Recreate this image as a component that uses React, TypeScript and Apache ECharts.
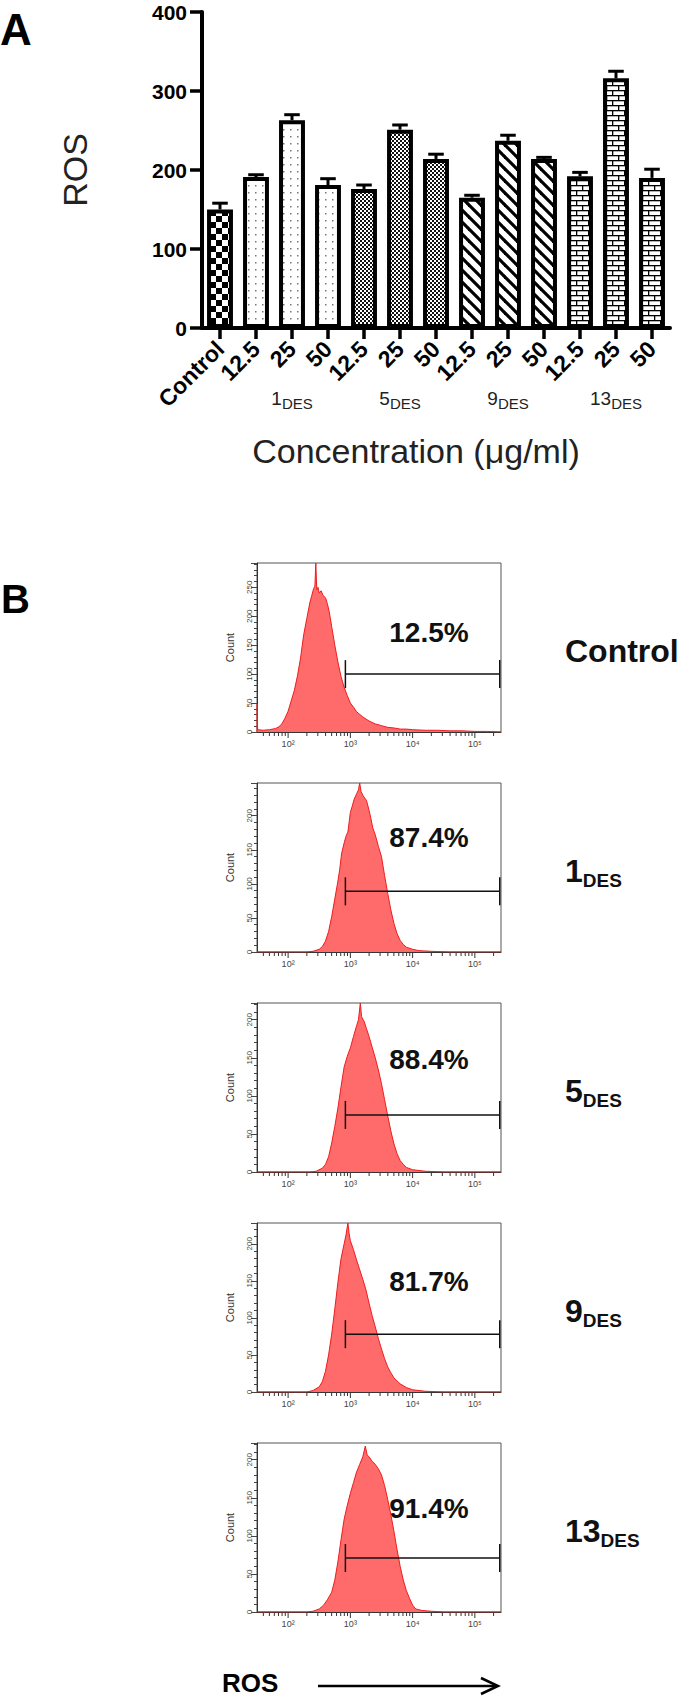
import React, { useEffect, useRef } from 'react';
import * as echarts from 'echarts';

// ---------- Panel A data ----------
const categories = ['Control', '12.5', '25', '50', '12.5', '25', '50', '12.5', '25', '50', '12.5', '25', '50'];
const barGroups = ['control', '1', '1', '1', '5', '5', '5', '9', '9', '9', '13', '13', '13'];
const barValues = [150, 191, 263, 181, 176, 251, 214, 165, 237, 214, 192, 316, 190];
const barErrors = [8, 3, 7, 8, 5, 6, 6, 3, 7, 2, 5, 9, 11];
const groupLabelIndex = [2, 5, 8, 11];
const groupLabelNames = ['1', '5', '9', '13'];
const barYTicks = { min: 0, max: 400, interval: 100 };

// ---------- Panel B data (log10 fluorescence, count) ----------
const histControl: number[][] = [
  [1.5, 0], [1.502, 48], [1.51, 4], [1.6, 3], [1.7, 4], [1.8, 6], [1.85, 9], [1.9, 14], [1.95, 24], [2.0, 36],
  [2.05, 54], [2.1, 72], [2.15, 97], [2.2, 128], [2.25, 168], [2.3, 196], [2.35, 224], [2.38, 236], [2.41, 248],
  [2.43, 252], [2.445, 292], [2.46, 246], [2.48, 250], [2.5, 240], [2.53, 244], [2.56, 236], [2.6, 232], [2.63, 222],
  [2.66, 208], [2.7, 182], [2.75, 150], [2.8, 121], [2.85, 96], [2.9, 77], [2.95, 63], [3.0, 50], [3.05, 43],
  [3.1, 35], [3.2, 26], [3.3, 19], [3.4, 14], [3.5, 11], [3.6, 8], [3.7, 7], [3.8, 5], [3.9, 5], [4.0, 4],
  [4.2, 3], [4.4, 3], [4.6, 2], [4.8, 2], [5.0, 1], [5.2, 1], [5.42, 0],
];
const hist1DES: number[][] = [
  [1.5, 0], [2.3, 0], [2.4, 1], [2.5, 4], [2.55, 8], [2.6, 16], [2.65, 30], [2.7, 52], [2.75, 78], [2.8, 104],
  [2.83, 122], [2.86, 145], [2.9, 160], [2.93, 170], [2.96, 176], [3.0, 205], [3.03, 214], [3.06, 224], [3.1, 232],
  [3.13, 238], [3.15, 248], [3.17, 236], [3.2, 230], [3.23, 226], [3.26, 222], [3.3, 208], [3.33, 196], [3.36, 182],
  [3.4, 172], [3.45, 155], [3.5, 140], [3.55, 112], [3.6, 86], [3.65, 62], [3.7, 42], [3.75, 27], [3.8, 17],
  [3.85, 11], [3.9, 7], [4.0, 4], [4.1, 2], [4.3, 1], [4.6, 0], [5.42, 0],
];
const hist5DES: number[][] = [
  [1.5, 0], [2.35, 0], [2.45, 1], [2.55, 5], [2.6, 10], [2.65, 20], [2.7, 38], [2.75, 60], [2.8, 84], [2.85, 112],
  [2.9, 138], [2.95, 152], [3.0, 163], [3.05, 178], [3.1, 192], [3.13, 200], [3.16, 222], [3.18, 204], [3.22, 198],
  [3.26, 188], [3.3, 178], [3.35, 164], [3.4, 150], [3.45, 134], [3.5, 116], [3.55, 95], [3.6, 74], [3.65, 54],
  [3.7, 37], [3.75, 24], [3.8, 15], [3.85, 10], [3.9, 6], [4.0, 3], [4.2, 1], [4.5, 0], [5.42, 0],
];
const hist9DES: number[][] = [
  [1.5, 0], [2.3, 0], [2.4, 2], [2.5, 7], [2.55, 14], [2.6, 28], [2.65, 50], [2.7, 78], [2.75, 112], [2.8, 148],
  [2.85, 180], [2.9, 200], [2.93, 212], [2.96, 228], [2.98, 214], [3.0, 204], [3.05, 192], [3.1, 178], [3.15, 165],
  [3.2, 152], [3.25, 138], [3.3, 120], [3.35, 103], [3.4, 88], [3.45, 72], [3.5, 58], [3.55, 45], [3.6, 34],
  [3.65, 26], [3.7, 19], [3.8, 11], [3.9, 6], [4.0, 3], [4.2, 1], [4.5, 0], [5.42, 0],
];
const hist13DES: number[][] = [
  [1.5, 0], [2.3, 0], [2.4, 1], [2.5, 4], [2.57, 9], [2.63, 16], [2.7, 26], [2.75, 42], [2.8, 66], [2.85, 95],
  [2.9, 122], [2.95, 140], [3.0, 156], [3.05, 170], [3.1, 184], [3.15, 194], [3.2, 204], [3.24, 218], [3.27, 206],
  [3.3, 204], [3.35, 198], [3.4, 194], [3.45, 188], [3.5, 180], [3.55, 166], [3.6, 148], [3.65, 128], [3.7, 106],
  [3.75, 82], [3.8, 60], [3.85, 42], [3.9, 28], [3.95, 18], [4.0, 9], [4.05, 4], [4.15, 2], [4.3, 1], [4.5, 0], [5.42, 0],
];
const histograms = [histControl, hist1DES, hist5DES, hist9DES, hist13DES];
const histYMax = [292, 248, 222, 228, 222];
const gateStart = [2.92, 2.92, 2.92, 2.92, 2.92];
const gateEnd = [5.4, 5.4, 5.4, 5.4, 5.4];
const gateCount = [100, 89, 75, 78, 71];
const percentLabels = ['12.5%', '87.4%', '88.4%', '81.7%', '91.4%'];
const sampleNames = ['Control', '1', '5', '9', '13'];
const sampleSubs = ['', 'DES', 'DES', 'DES', 'DES'];
const histXMin = 1.5;
const histXMax = 5.42;
const logTickDecades = [1, 2, 3, 4, 5];
const logTickMultipliers = [1, 2, 3, 4, 5, 6, 7, 8, 9];
const supDigits: Record<number, string> = { 2: '²', 3: '³', 4: '⁴', 5: '⁵' };

const FONT = 'Liberation Sans, Arial, Helvetica, sans-serif';

function makePattern(w: number, h: number, draw: (ctx: CanvasRenderingContext2D) => void) {
  const c = document.createElement('canvas');
  c.width = w;
  c.height = h;
  const ctx = c.getContext('2d')!;
  ctx.fillStyle = '#fff';
  ctx.fillRect(0, 0, w, h);
  draw(ctx);
  return { image: c.toDataURL(), repeat: 'repeat', imageWidth: w, imageHeight: h } as any;
}

function buildPatterns(): Record<string, any> {
  return {
    control: makePattern(12, 12, (ctx) => {
      ctx.fillStyle = '#000';
      ctx.fillRect(0, 0, 6, 6);
      ctx.fillRect(6, 6, 6, 6);
    }),
    '1': makePattern(7, 7, (ctx) => {
      ctx.fillStyle = '#777';
      ctx.fillRect(3, 3, 1.5, 1.5);
    }),
    '5': makePattern(4, 4, (ctx) => {
      ctx.fillStyle = '#111';
      ctx.fillRect(0, 0, 2, 2);
      ctx.fillRect(2, 2, 2, 2);
    }),
    '9': makePattern(12, 12, (ctx) => {
      ctx.strokeStyle = '#000';
      ctx.lineWidth = 3.2;
      for (const o of [-12, 0, 12]) {
        ctx.beginPath();
        ctx.moveTo(o - 1, -1);
        ctx.lineTo(o + 13, 13);
        ctx.stroke();
      }
    }),
    '13': makePattern(12, 10, (ctx) => {
      ctx.fillStyle = '#000';
      ctx.fillRect(0, 0, 12, 1.3);
      ctx.fillRect(0, 5, 12, 1.3);
      ctx.fillRect(0, 0, 1.3, 5);
      ctx.fillRect(6, 5, 1.3, 5);
    }),
  };
}

function buildOption() {
  const patterns = buildPatterns();
  const panelTop = (i: number) => 563 + 220 * i;
  const panelH = 169;
  const percentOffset = [69, 54, 56, 58, 65];

  const grids: any[] = [{ left: 202, top: 12, width: 468, height: 316 }];
  for (let i = 0; i < 5; i++) {
    grids.push({ left: 257, top: panelTop(i), width: 244, height: panelH, show: true, borderColor: '#555', borderWidth: 1 });
  }

  const xAxes: any[] = [
    {
      gridIndex: 0,
      type: 'category',
      data: categories,
      position: 'bottom',
      axisLine: { show: true, lineStyle: { color: '#000', width: 4 } },
      axisTick: { show: true, alignWithLabel: true, length: 11, lineStyle: { color: '#000', width: 3.5 } },
      axisLabel: { interval: 0, rotate: 45, fontSize: 23, fontWeight: 'bold', color: '#000', margin: 17, fontFamily: FONT },
      name: 'Concentration (μg/ml)',
      nameLocation: 'middle',
      nameGap: 106,
      nameTextStyle: { fontSize: 34, color: '#222', fontFamily: FONT, padding: [0, 40, 0, 0] },
    },
    {
      gridIndex: 0,
      type: 'category',
      data: categories,
      position: 'bottom',
      axisLine: { show: false },
      axisTick: { show: false },
      axisLabel: {
        interval: 0,
        margin: 58,
        formatter: (_v: string, idx: number) => {
          const k = groupLabelIndex.indexOf(idx);
          return k >= 0 ? `{n|${groupLabelNames[k]}}{s|DES}` : '';
        },
        rich: {
          n: { fontSize: 19, color: '#222', fontFamily: FONT },
          s: { fontSize: 15, color: '#222', fontFamily: FONT, padding: [10, 0, 0, 0] },
        },
      },
    },
  ];
  const yAxes: any[] = [
    {
      gridIndex: 0,
      type: 'value',
      min: barYTicks.min,
      max: barYTicks.max,
      interval: barYTicks.interval,
      axisLine: { show: true, lineStyle: { color: '#000', width: 4 } },
      axisTick: { show: true, length: 12, lineStyle: { color: '#000', width: 3.5 } },
      axisLabel: { fontSize: 21, fontWeight: 'bold', color: '#000', margin: 15, fontFamily: FONT },
      splitLine: { show: false },
      name: 'ROS',
      nameLocation: 'middle',
      nameGap: 110,
      nameTextStyle: { fontSize: 34, color: '#222', fontFamily: FONT },
    },
  ];

  const tickData: number[][] = [];
  for (const d of logTickDecades) {
    for (const m of logTickMultipliers) {
      const lg = Math.log10(m * Math.pow(10, d));
      if (lg >= histXMin && lg <= histXMax) tickData.push([lg, m === 1 ? 1 : 0]);
    }
  }

  const series: any[] = [
    {
      type: 'bar',
      xAxisIndex: 0,
      yAxisIndex: 0,
      barCategoryGap: '28%',
      itemStyle: { borderColor: '#000', borderWidth: 4 },
      data: barValues.map((v, i) => ({ value: v, itemStyle: { color: patterns[barGroups[i]] } })),
      z: 2,
    },
    {
      type: 'custom',
      xAxisIndex: 0,
      yAxisIndex: 0,
      z: 3,
      data: barValues.map((v, i) => [i, v, barErrors[i]]),
      renderItem: (_p: any, api: any) => {
        const idx = api.value(0);
        const v = api.value(1);
        const e = api.value(2);
        const base = api.coord([idx, v]);
        const top = api.coord([idx, v + e]);
        const half = api.size([1, 0])[0] * 0.72 * 0.3;
        return {
          type: 'group',
          children: [
            { type: 'line', shape: { x1: base[0], y1: base[1], x2: base[0], y2: top[1] }, style: { stroke: '#000', lineWidth: 3 } },
            { type: 'line', shape: { x1: top[0] - half, y1: top[1], x2: top[0] + half, y2: top[1] }, style: { stroke: '#000', lineWidth: 3 } },
          ],
        };
      },
    },
  ];

  const graphics: any[] = [
    { type: 'text', x: 0, y: 29, style: { text: 'A', fontSize: 44, fontWeight: 'bold', fill: '#000', fontFamily: FONT, textAlign: 'left', textVerticalAlign: 'middle' } },
    { type: 'text', x: 1, y: 599, style: { text: 'B', fontSize: 40, fontWeight: 'bold', fill: '#000', fontFamily: FONT, textAlign: 'left', textVerticalAlign: 'middle' } },
    { type: 'text', x: 222, y: 1683, style: { text: 'ROS', fontSize: 26, fontWeight: 'bold', fill: '#000', fontFamily: FONT, textAlign: 'left', textVerticalAlign: 'middle' } },
    { type: 'line', shape: { x1: 318, y1: 1686, x2: 497, y2: 1686 }, style: { stroke: '#000', lineWidth: 2.5 } },
    { type: 'polyline', shape: { points: [[481, 1678], [498, 1686], [481, 1694]] }, style: { stroke: '#000', lineWidth: 2.5, fill: null } },
  ];

  for (let i = 0; i < 5; i++) {
    const gi = i + 1;
    xAxes.push({
      gridIndex: gi,
      type: 'value',
      min: histXMin,
      max: histXMax,
      interval: 0.5,
      axisLine: { show: true, lineStyle: { color: '#333', width: 1 } },
      axisTick: { show: false },
      splitLine: { show: false },
      axisLabel: {
        fontSize: 9,
        color: '#444',
        margin: 7,
        fontFamily: FONT,
        formatter: (v: number) => (Number.isInteger(v) && supDigits[v] ? '10' + supDigits[v] : ''),
      },
    });
    yAxes.push({
      gridIndex: gi,
      type: 'value',
      min: 0,
      max: histYMax[i],
      interval: 50,
      axisLine: { show: true, lineStyle: { color: '#333', width: 1 } },
      axisTick: { show: true, length: 6, lineStyle: { color: '#444', width: 1 } },
      minorTick: { show: true, splitNumber: 5, length: 3, lineStyle: { color: '#444', width: 1 } },
      splitLine: { show: false },
      axisLabel: {
        rotate: 90,
        fontSize: 8,
        color: '#444',
        margin: 4,
        fontFamily: FONT,
        formatter: (v: number) => (v % 50 === 0 ? String(v) : ''),
      },
      name: 'Count',
      nameLocation: 'middle',
      nameGap: 22,
      nameTextStyle: { fontSize: 11, color: '#333', fontFamily: FONT },
    });
    series.push({
      type: 'line',
      xAxisIndex: gi + 1,
      yAxisIndex: gi,
      data: histograms[i],
      symbol: 'none',
      smooth: false,
      lineStyle: { color: '#ee1c1c', width: 1 },
      areaStyle: { color: '#ff6b6b', opacity: 1 },
      z: 2,
    });
    series.push({
      type: 'custom',
      xAxisIndex: gi + 1,
      yAxisIndex: gi,
      data: tickData,
      silent: true,
      renderItem: (_p: any, api: any) => {
        const p = api.coord([api.value(0), 0]);
        const len = api.value(1) ? 6 : 4;
        return { type: 'line', shape: { x1: p[0], y1: p[1], x2: p[0], y2: p[1] + len }, style: { stroke: '#333', lineWidth: 1 } };
      },
    });
    series.push({
      type: 'custom',
      xAxisIndex: gi + 1,
      yAxisIndex: gi,
      data: [[gateStart[i], gateEnd[i], gateCount[i]]],
      z: 4,
      renderItem: (_p: any, api: any) => {
        const a = api.coord([api.value(0), api.value(2)]);
        const b = api.coord([api.value(1), api.value(2)]);
        const h = 14;
        return {
          type: 'group',
          children: [
            { type: 'line', shape: { x1: a[0], y1: a[1], x2: b[0], y2: b[1] }, style: { stroke: '#111', lineWidth: 1.5 } },
            { type: 'line', shape: { x1: a[0], y1: a[1] - h, x2: a[0], y2: a[1] + h }, style: { stroke: '#111', lineWidth: 1.5 } },
            { type: 'line', shape: { x1: b[0], y1: b[1] - h, x2: b[0], y2: b[1] + h }, style: { stroke: '#111', lineWidth: 1.5 } },
          ],
        };
      },
    });

    const top = panelTop(i);
    graphics.push({
      type: 'text',
      x: 429,
      y: top + percentOffset[i],
      style: { text: percentLabels[i], fontSize: 28, fontWeight: 'bold', fill: '#111', fontFamily: FONT, textAlign: 'center', textVerticalAlign: 'middle' },
    });
    graphics.push({
      type: 'text',
      x: 565,
      y: top + 88,
      style: {
        text: sampleSubs[i] ? `{n|${sampleNames[i]}}{s|${sampleSubs[i]}}` : `{n|${sampleNames[i]}}`,
        fill: '#111',
        fontFamily: FONT,
        textAlign: 'left',
        textVerticalAlign: 'middle',
        rich: {
          n: { fontSize: 32, fontWeight: 'bold', fill: '#111', fontFamily: FONT },
          s: { fontSize: 19, fontWeight: 'bold', fill: '#111', fontFamily: FONT, padding: [18, 0, 0, 0] },
        },
      },
    });
  }

  return {
    animation: false,
    backgroundColor: '#fff',
    textStyle: { fontFamily: FONT },
    grid: grids,
    xAxis: xAxes,
    yAxis: yAxes,
    series,
    graphic: { elements: graphics },
  };
}

export default function App() {
  const ref = useRef<HTMLDivElement>(null);
  useEffect(() => {
    if (!ref.current) return;
    const chart = echarts.init(ref.current, null, { renderer: 'svg' });
    chart.setOption(buildOption() as any);
    return () => chart.dispose();
  }, []);
  return (
    <div
      ref={ref}
      style={{ position: 'absolute', left: 0, top: 0, width: 683, height: 1699, background: '#fff' }}
    />
  );
}
